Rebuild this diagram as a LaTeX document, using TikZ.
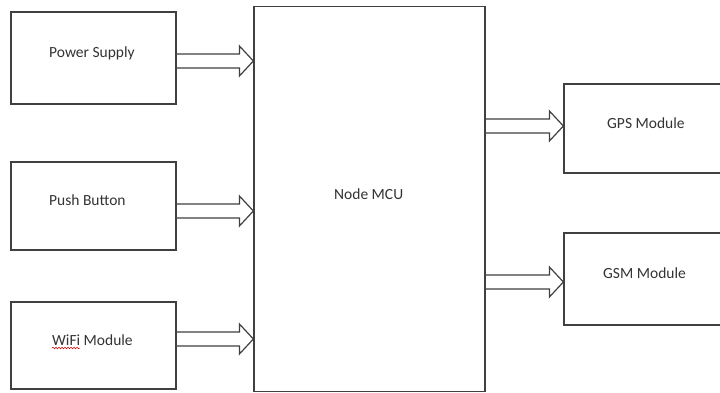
\documentclass[tikz,border=0pt]{standalone}
\usepackage{fontspec}
\setmainfont{Carlito}
\usetikzlibrary{calc,decorations.pathmorphing}
\definecolor{lc}{HTML}{404040}
\definecolor{tc}{HTML}{333333}
\tikzset{
  box/.style={draw=lc, line width=1.2pt, inner sep=0pt},
  lbl/.style={text=tc, font=\fontsize{15.5}{18}\selectfont, anchor=base west, inner sep=0pt},
  barrowline/.style={draw=lc, line width=1.2pt, line join=miter}
}
% #1 source anchor, #2 target anchor, #3 point giving the arrow's height
\newcommand\blockarrow[3]{%
  \path (#3) coordinate (y0);
  \path (#1 |- y0) coordinate (s) (#2 |- y0) coordinate (t);
  \draw[barrowline] let \p1=(s), \p2=(t) in
    (\x1,\y1+7pt) -- (\x2-14pt,\y1+7pt) -- (\x2-14pt,\y1+15pt) -- (\x2,\y1)
    -- (\x2-14pt,\y1-15pt) -- (\x2-14pt,\y1-7pt) -- (\x1,\y1-7pt);
}
\begin{document}
\begin{tikzpicture}[x=1pt,y=-1pt]
\useasboundingbox (0,0) rectangle (720,393);
\clip (0,0) rectangle (720,393);
\fill[white] (0,0) rectangle (720,393);

% boxes
\node[box, minimum width=165pt, minimum height=92pt] (ps) at (93.5,58) {};
\node[box, minimum width=165pt, minimum height=88pt] (pb) at (93.5,206) {};
\node[box, minimum width=165pt, minimum height=87pt] (wf) at (93.5,345.5) {};
\node[box, minimum width=231pt, minimum height=385pt] (mcu) at (369.5,199) {};
\node[box, minimum width=176pt, minimum height=89pt] (gps) at (652,128.5) {};
\node[box, minimum width=176pt, minimum height=92pt] (gsm) at (652,279) {};

% labels
\node[lbl] (psl) at (49,58) {Power Supply};
\node[lbl] (pbl) at (49,205) {Push Button};
\node[lbl] (wfl) at (52,345) {WiFi Module};
\node[lbl] (mcul) at (334,199) {Node MCU};
\node[lbl] (gpsl) at (607,129) {GPS Module};
\node[lbl] (gsml) at (603,278) {GSM Module};

% spell-check squiggle under "WiFi"
\draw[red!85!black, line width=0.5pt, decorate,
      decoration={snake, amplitude=0.8pt, segment length=3pt}]
  ($(wfl.base west)+(0,3)$) coordinate (sq1) -- ($(wfl.base west)+(28,3)$) coordinate (sq2);

% block arrows
\blockarrow{ps.east}{mcu.west}{$(ps.east)+(0,3)$}
\blockarrow{pb.east}{mcu.west}{$(pb.east)+(0,5)$}
\blockarrow{wf.east}{mcu.west}{$(wf.east)+(0,-6.5)$}
\blockarrow{mcu.east}{gps.west}{$(gps.west)+(0,-2.5)$}
\blockarrow{mcu.east}{gsm.west}{$(gsm.west)+(0,3)$}
\end{tikzpicture}
\end{document}
